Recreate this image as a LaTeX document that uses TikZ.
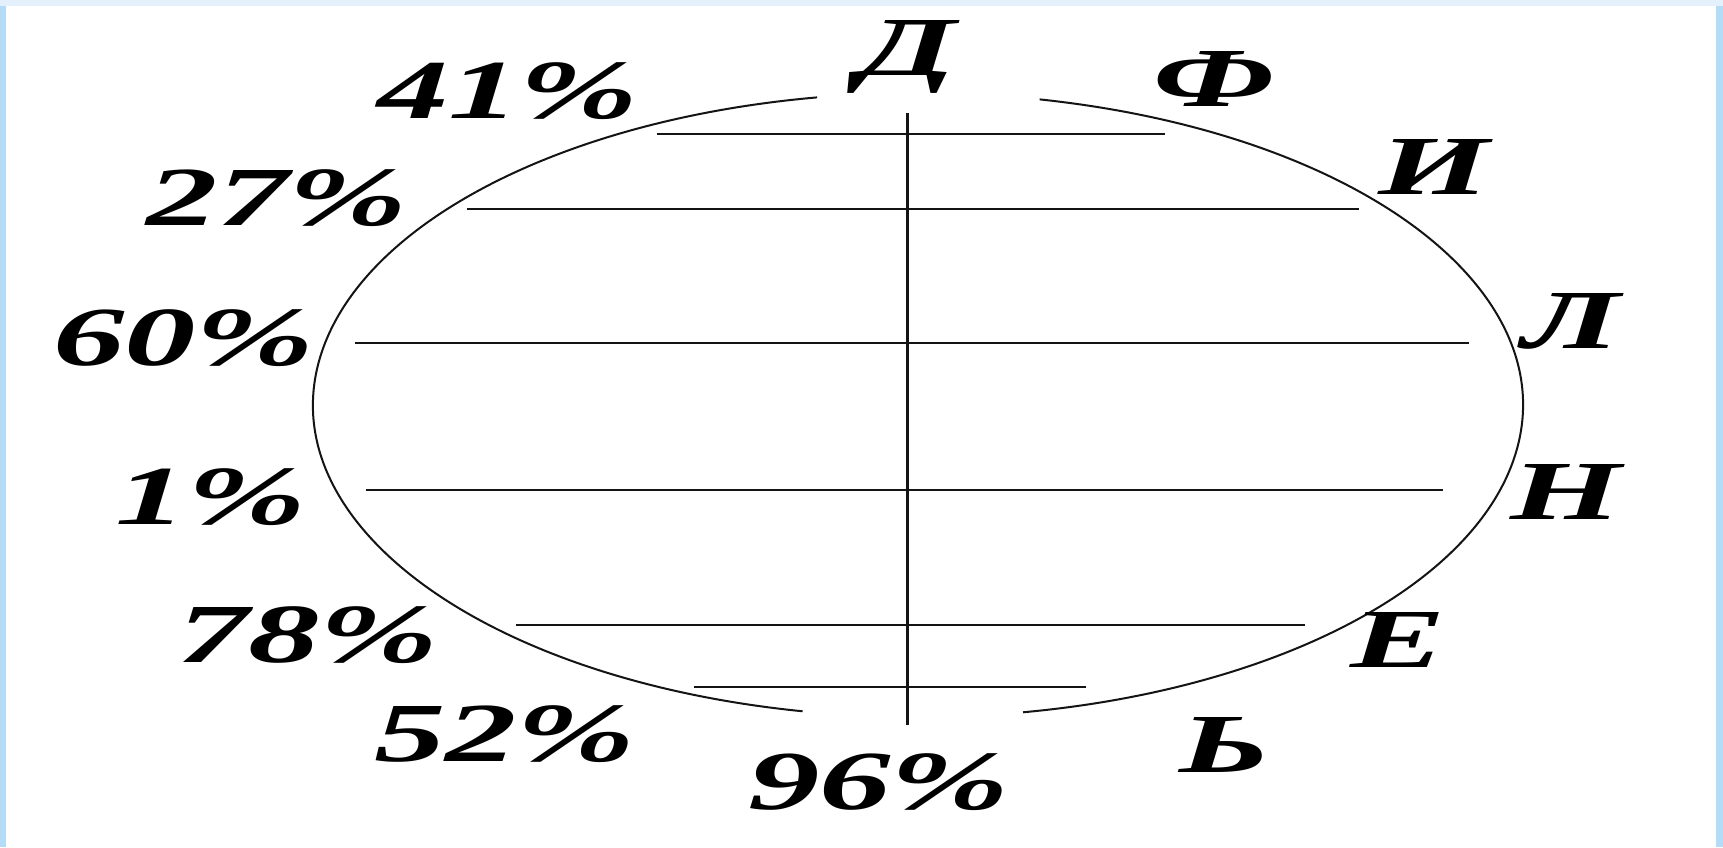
\documentclass[tikz,border=0pt]{standalone}
\usepackage{fontspec}
\setmainfont{Liberation Serif}
\usepackage{tikz}
\definecolor{FrameSide}{HTML}{B5DCF7}
\definecolor{FrameTop}{HTML}{E4F1FC}
\definecolor{InkLine}{HTML}{141414}

\tikzset{
    mark label/.style={
        font=\fontsize{84}{90}\selectfont\bfseries\itshape,
        inner sep=0pt,
        xscale=1.7,
        transform shape
    },
    rim/.style={InkLine, line width=2pt},
    chord/.style={InkLine, line width=2.2pt},
    axis line/.style={InkLine, line width=3pt}
}

\begin{document}
\begin{tikzpicture}[x=1pt, y=-1pt]
    \useasboundingbox (0,0) rectangle (1723,847);
    \fill[FrameSide] (0,0) rectangle (1723,847);
    \fill[FrameTop] (0,0) rectangle (1723,6);
    \fill[white] (6,6) rectangle (1716,847);

    % ellipse, open at top and bottom
    \coordinate (c) at (918,405);
    \draw[rim] (c) ++(101:605 and 312) arc[start angle=101, end angle=260.4, x radius=605, y radius=312];
    \draw[rim] (c) ++(-78.4:605 and 312) arc[start angle=-78.4, end angle=80, x radius=605, y radius=312];

    % horizontal chords
    \foreach \y/\xa/\xb in {134/657/1165, 209/467/1359, 343/355/1469,
                            490/366/1443, 625/516/1305, 687/694/1086}
        \draw[chord] (\xa,\y) -- (\xb,\y);

    \coordinate (axtop) at (907,113);
    \coordinate (axbot) at (907,725);
    \draw[axis line] (axtop) -- (axbot);

    % percentages on the left
    \node[mark label] (p41) at (508,91) {41\%};
    \node[mark label] (p27) at (277,198) {27\%};
    \node[mark label] (p60) at (184,338) {60\%};
    \node[mark label] (p1)  at (211,497) {1\%};
    \node[mark label] (p78) at (308,635) {78\%};
    \node[mark label] (p52) at (505,734) {52\%};
    \node[mark label] (p96) at (879,782) {96\%};

    % letters on the right
    \node[mark label] (lD) at (907,57)  {Д};
    \node[mark label] (lF) at (1214,79) {Ф};
    \node[mark label] (lI) at (1434,167) {И};
    \node[mark label] (lL) at (1571,321) {Л};
    \node[mark label] (lN) at (1566,492) {Н};
    \node[mark label] (lE) at (1398,640) {Е};
    \node[mark label] (lS) at (1225,745) {Ь};
\end{tikzpicture}
\end{document}
